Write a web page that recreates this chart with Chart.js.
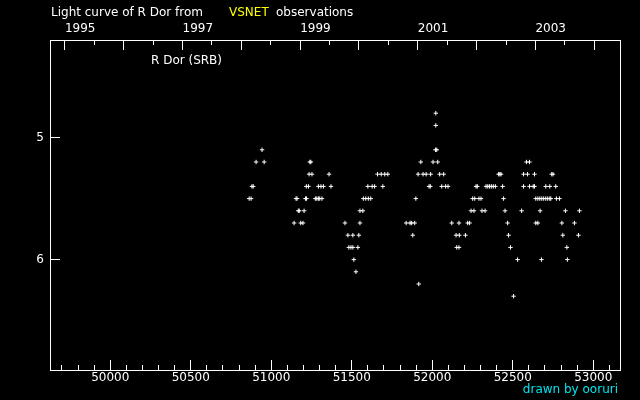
<!DOCTYPE html>
<html>
<head>
<meta charset="utf-8">
<script src="https://cdn.jsdelivr.net/npm/chart.js@4"></script>
<style>
  html, body { margin: 0; padding: 0; background: #000; }
  canvas { display: block; }
</style>
</head>
<body>
<canvas id="lightCurve" width="640" height="400"></canvas>
<script>
// observations (JD - 2400000, visual magnitude)
const obsJD = [
  50863, 50875, 50880, 50888, 50906, 50943, 50956,
  51142, 51154, 51160, 51168, 51174, 51183, 51197, 51204, 51213, 51218, 51219,
  51231, 51235, 51240, 51246, 51253, 51274, 51283, 51293, 51293, 51301, 51309,
  51315, 51324, 51359, 51371, 51458, 51476, 51482, 51495, 51507, 51507, 51513,
  51526, 51538, 51544, 51551, 51551, 51569, 51572, 51587, 51600, 51603, 51618,
  51627, 51642, 51660, 51683, 51693, 51705, 51724,
  51838, 51862, 51872, 51879, 51891, 51898, 51912, 51916, 51929, 51943, 51962,
  51980, 51988, 51990, 52005, 52020, 52022, 52022, 52028, 52034, 52046, 52059,
  52071, 52083, 52098, 52121, 52148, 52152, 52166, 52166, 52168, 52206, 52220,
  52232, 52241, 52251, 52259, 52264, 52272, 52280, 52290, 52303, 52309, 52328,
  52334, 52345, 52356, 52367, 52379, 52392, 52412, 52420, 52427, 52437, 52443,
  52452, 52468, 52474, 52486, 52505, 52530, 52555, 52567, 52567, 52585, 52592,
  52604, 52604, 52627, 52635, 52635, 52643, 52643, 52656, 52656, 52668, 52670,
  52678, 52680, 52692, 52705, 52705, 52717, 52730, 52730, 52736, 52742, 52750,
  52767, 52771, 52790, 52805, 52811, 52827, 52836, 52839, 52883, 52908, 52914
];
const obsMag = [
  5.5, 5.5, 5.4, 5.4, 5.2, 5.1, 5.2,
  5.7, 5.5, 5.5, 5.6, 5.6, 5.7, 5.7, 5.6, 5.5, 5.4, 5.5,
  5.4, 5.3, 5.2, 5.2, 5.3, 5.5, 5.5, 5.5, 5.4, 5.5, 5.4,
  5.5, 5.4, 5.3, 5.4, 5.7, 5.8, 5.9, 5.9, 5.8, 5.9, 6.0,
  6.1, 5.9, 5.8, 5.6, 5.7, 5.6, 5.5, 5.5, 5.4, 5.5, 5.5,
  5.4, 5.4, 5.3, 5.3, 5.4, 5.3, 5.3,
  5.7, 5.7, 5.7, 5.8, 5.7, 5.5, 5.3, 6.2, 5.2, 5.3, 5.3,
  5.4, 5.4, 5.3, 5.2, 5.1, 4.8, 4.9, 5.1, 5.2, 5.3, 5.4,
  5.3, 5.4, 5.4, 5.7, 5.8, 5.9, 5.9, 5.7, 5.8, 5.8, 5.7,
  5.7, 5.6, 5.5, 5.6, 5.5, 5.4, 5.4, 5.5, 5.5, 5.6, 5.6,
  5.4, 5.4, 5.4, 5.4, 5.4, 5.4, 5.3, 5.3, 5.3, 5.4, 5.5,
  5.6, 5.7, 5.8, 5.9, 6.3, 6.0, 5.6, 5.3, 5.4, 5.2, 5.3,
  5.2, 5.4, 5.4, 5.4, 5.3, 5.5, 5.7, 5.7, 5.5, 5.5, 5.6,
  6.0, 5.5, 5.5, 5.5, 5.4, 5.5, 5.5, 5.4, 5.5, 5.3, 5.3,
  5.4, 5.5, 5.5, 5.7, 5.8, 5.6, 5.9, 6.0, 5.7, 5.8, 5.6
];

// axes
const jdTicks = [50000, 50500, 51000, 51500, 52000, 52500, 53000];
const jdMinorTicks = [];
for (let v = 49700; v <= 53100; v += 100) jdMinorTicks.push(v);
const yearStartJD = [49718.5, 50083.5, 50449.5, 50814.5, 51179.5, 51544.5, 51910.5, 52275.5, 52640.5, 53005.5];
const yearLabels = ['1995', '', '1997', '', '1999', '', '2001', '', '2003', ''];
const magTicks = [5, 6];

const jdMin = 49626, jdMax = 53166;
const magMin = 4.2, magMax = 6.905;

const midYearJD = [];
for (let i = 0; i < yearStartJD.length - 1; i++) {
  midYearJD.push((yearStartJD[i] + yearStartJD[i + 1]) / 2);
}

const FONT = { family: 'DejaVu Sans', size: 12 };

const setTicks = vals => scale => { scale.ticks = vals.map(v => ({ value: v })); };

const frameAxis = (extra) => Object.assign({
  type: 'linear',
  grid: { drawOnChartArea: false, color: '#fff', tickColor: '#fff', tickWidth: 1 },
  border: { color: '#fff', width: 1 },
  ticks: { color: '#fff', font: FONT, autoSkip: false, maxRotation: 0 }
}, extra);

const blackBg = {
  id: 'blackBg',
  beforeDraw(chart) {
    const ctx = chart.ctx;
    ctx.save();
    ctx.fillStyle = '#000';
    ctx.fillRect(0, 0, chart.width, chart.height);
    ctx.restore();
  }
};

const captions = {
  id: 'captions',
  afterDraw(chart) {
    const ctx = chart.ctx;
    ctx.save();
    ctx.font = '12px "DejaVu Sans"';
    ctx.textBaseline = 'middle';
    ctx.textAlign = 'left';
    ctx.fillStyle = '#fff';
    ctx.fillText('Light curve of R Dor from', 51, 13);
    ctx.fillStyle = '#ffff00';
    ctx.fillText('VSNET', 229, 13);
    ctx.fillStyle = '#fff';
    ctx.fillText('observations', 276, 13);
    ctx.fillText('R Dor (SRB)', 151, 61);
    ctx.fillStyle = '#00e5ee';
    ctx.textAlign = 'right';
    ctx.fillText('drawn by ooruri', 618, 390);
    ctx.restore();
  }
};

new Chart(document.getElementById('lightCurve').getContext('2d'), {
  type: 'scatter',
  data: {
    datasets: [{
      data: obsJD.map((x, i) => ({ x: x, y: obsMag[i] })),
      pointStyle: 'cross',
      radius: 2.2,
      borderWidth: 1,
      borderColor: '#fff',
      backgroundColor: '#fff',
      xAxisID: 'x',
      yAxisID: 'y'
    }]
  },
  options: {
    responsive: false,
    animation: false,
    devicePixelRatio: 1,
    layout: { padding: { top: 0, right: 20, bottom: 0, left: 0 } },
    plugins: { legend: { display: false }, tooltip: { enabled: false } },
    scales: {
      x: frameAxis({
        axis: 'x', position: 'bottom', weight: 1, min: jdMin, max: jdMax,
        afterBuildTicks: setTicks(jdTicks),
        grid: { drawOnChartArea: false, color: '#fff', tickLength: -10 },
        ticks: { color: '#fff', font: FONT, autoSkip: false, maxRotation: 0, padding: 11, callback: v => String(v) },
        afterFit: s => { s.height = 30; }
      }),
      xMinor: frameAxis({
        axis: 'x', position: 'bottom', weight: 0, min: jdMin, max: jdMax,
        afterBuildTicks: setTicks(jdMinorTicks),
        grid: { drawOnChartArea: false, color: '#fff', tickLength: -5 },
        ticks: { display: false },
        afterFit: s => { s.height = 0; }
      }),
      xTop: frameAxis({
        axis: 'x', position: 'top', weight: 1, min: jdMin, max: jdMax,
        afterBuildTicks: setTicks(yearStartJD),
        grid: { drawOnChartArea: false, color: '#fff', tickLength: -10 },
        ticks: { color: '#fff', font: FONT, autoSkip: false, maxRotation: 0, align: 'start', padding: 14,
                 callback: (v, i) => yearLabels[i] },
        afterFit: s => { s.height = 40; }
      }),
      xTopMinor: frameAxis({
        axis: 'x', position: 'top', weight: 0, min: jdMin, max: jdMax,
        afterBuildTicks: setTicks(midYearJD),
        grid: { drawOnChartArea: false, color: '#fff', tickLength: -5 },
        ticks: { display: false },
        afterFit: s => { s.height = 0; }
      }),
      y: frameAxis({
        axis: 'y', position: 'left', reverse: true, min: magMin, max: magMax,
        afterBuildTicks: setTicks(magTicks),
        grid: { drawOnChartArea: false, color: '#fff', tickLength: -10 },
        ticks: { color: '#fff', font: FONT, padding: 16, callback: v => String(v) },
        afterFit: s => { s.width = 50; }
      }),
      yRight: frameAxis({
        axis: 'y', position: 'right', reverse: true, min: magMin, max: magMax,
        grid: { drawOnChartArea: false, drawTicks: false },
        ticks: { display: false },
        afterFit: s => { s.width = 0; }
      })
    }
  },
  plugins: [blackBg, captions]
});
</script>
</body>
</html>
